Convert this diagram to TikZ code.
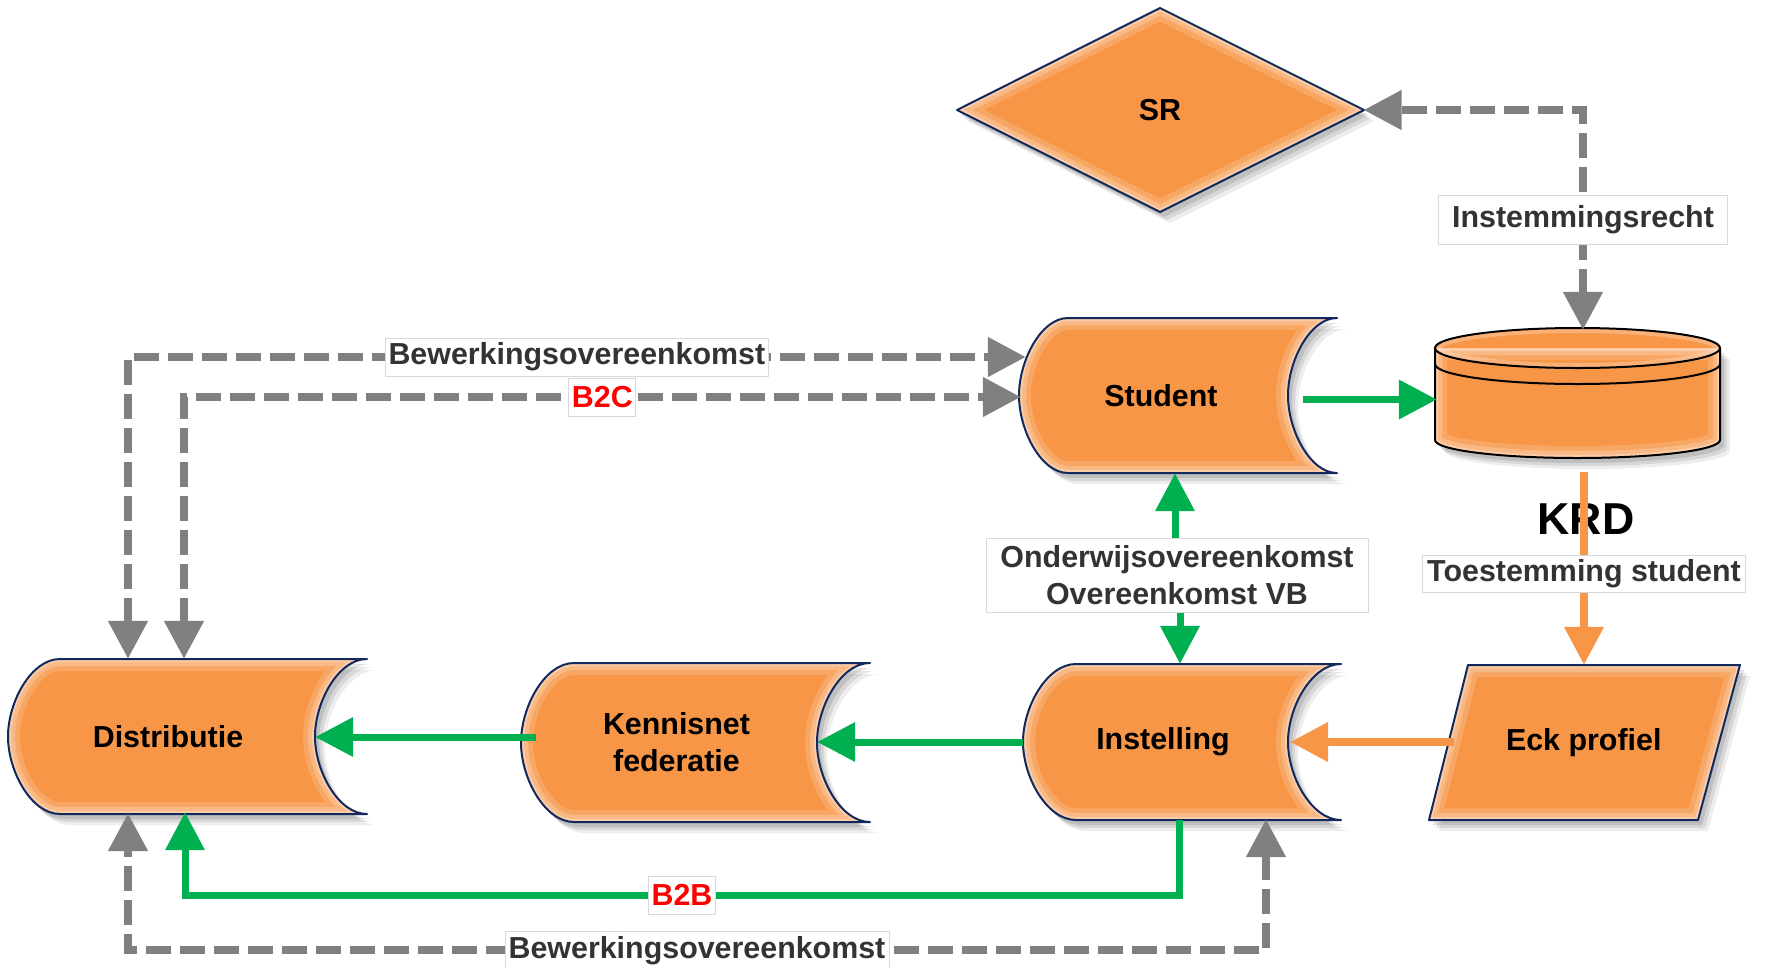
\documentclass[tikz,border=0pt]{standalone}
\usepackage{fontspec}
\setmainfont{Liberation Sans}
\usetikzlibrary{arrows.meta,calc}
\definecolor{ofill}{HTML}{F79646}
\definecolor{navy}{HTML}{12295E}
\definecolor{agreen}{HTML}{00B050}
\definecolor{agray}{HTML}{808080}
\definecolor{ltext}{HTML}{333333}
\definecolor{lborder}{HTML}{D9D9D9}
\definecolor{glowc}{HTML}{FFF2EC}
% stored-data outline: x0 (leftmost), xi (concave inner), top, bottom, depth
\newcommand\sdpath[5]{({#1+#5},#3) -- ({#2+#5},#3)
 .. controls ({#2+#5-0.5523*#5},#3) and (#2,{#3+0.5523*(#4-#3)/2}) .. (#2,{(#3+#4)/2})
 .. controls (#2,{#4-0.5523*(#4-#3)/2}) and ({#2+#5-0.5523*#5},#4) .. ({#2+#5},#4)
 -- ({#1+#5},#4)
 .. controls ({#1+#5-0.5523*#5},#4) and (#1,{#4-0.5523*(#4-#3)/2}) .. (#1,{(#3+#4)/2})
 .. controls (#1,{#3+0.5523*(#4-#3)/2}) and ({#1+#5-0.5523*#5},#3) .. ({#1+#5},#3) -- cycle}
\newcommand\oshape[2]{%
  \fill[black,opacity=0.07,shift={(10,11)}] #1;
  \fill[black,opacity=0.09,shift={(7,8)}] #1;
  \fill[black,opacity=0.11,shift={(4,5)}] #1;
  \fill[ofill] #1;
  \begin{scope}\clip #1;
    \draw[glowc,opacity=0.18,line width=24pt] #1;
    \draw[glowc,opacity=0.25,line width=14pt] #1;
    \draw[glowc,opacity=0.35,line width=6pt] #1;
  \end{scope}
  \draw[#2,line width=2pt,line join=round] #1;
}
\tikzset{
  shapetext/.style={font=\bfseries\fontsize{30.4}{37}\selectfont, text=black, inner sep=0pt, align=center},
  lbl/.style={solid, fill=white, draw=lborder, line width=1pt, text=ltext,
    font=\bfseries\fontsize{30.4}{37}\selectfont, inner xsep=3pt, inner ysep=0pt,
    minimum height=38pt, align=center},
  tipT/.tip={Triangle[length=38pt,width=38pt]},
  gyd/.style={draw=agray, line width=8pt, dash pattern=on 25pt off 9pt, arrows={tipT-tipT}},
  ga/.style={draw=agreen, line width=7pt, arrows={-tipT}},
  oa/.style={draw=ofill, line width=7.5pt, arrows={-tipT}},
}
\begin{document}
\begin{tikzpicture}[x=1pt,y=-1pt]
\fill[white] (0,0) rectangle (1765,967);
\useasboundingbox (0,0) rectangle (1765,967);

% ---- shapes ----
\oshape{(1160,8) -- (1364,110) -- (1160,212) -- (957,110) -- cycle}{navy}
\oshape{\sdpath{1019}{1288}{318}{473}{49}}{navy}
\oshape{\sdpath{1023}{1288}{664}{820}{53}}{navy}
\oshape{\sdpath{521}{817}{663}{822}{53}}{navy}
\oshape{\sdpath{8}{315}{659}{814}{52}}{navy}
\oshape{(1468,665) -- (1740,665) -- (1698,820) -- (1429,820) -- cycle}{navy}

% cylinder
\def\cylbody{(1435,348) -- (1435,440) .. controls (1435,450) and (1498.8,458) .. (1577.5,458) .. controls (1656.2,458) and (1720,450) .. (1720,440) -- (1720,348) -- cycle}
\def\cyltop{(1577.5,348) ellipse [x radius=142.5, y radius=20]}
\fill[black,opacity=0.07,shift={(10,11)}] \cylbody;
\fill[black,opacity=0.09,shift={(7,8)}] \cylbody;
\fill[black,opacity=0.11,shift={(4,5)}] \cylbody;
\fill[ofill] \cylbody;
\fill[ofill] \cyltop;
\begin{scope}\clip \cylbody;
  \draw[glowc,opacity=0.18,line width=24pt] \cylbody;
  \draw[glowc,opacity=0.25,line width=14pt] \cylbody;
  \draw[glowc,opacity=0.35,line width=6pt] \cylbody;
\end{scope}
\begin{scope}\clip \cyltop;
  \draw[glowc,opacity=0.3,line width=10pt] \cyltop;
\end{scope}
\draw[black,line width=2pt] (1435,348) -- (1435,440) .. controls (1435,450) and (1498.8,458) .. (1577.5,458) .. controls (1656.2,458) and (1720,450) .. (1720,440) -- (1720,348);
\draw[black,line width=2pt] \cyltop;
\draw[black,line width=2pt] (1435,364) .. controls (1435,375) and (1498.8,384) .. (1577.5,384) .. controls (1656.2,384) and (1720,375) .. (1720,364);

% ---- nodes ----
\node[shapetext, minimum width=407pt, minimum height=204pt] (sr) at (1160,110) {SR};
\node[shapetext, minimum width=269pt, minimum height=155pt] (stu) at (1153.5,395.5) {\hspace*{15pt}Student};
\node[shapetext, minimum width=265pt, minimum height=156pt] (ins) at (1155.5,742) {\hspace*{15pt}Instelling};
\node[shapetext, minimum width=296pt, minimum height=159pt] (ken) at (669,742.5) {\hspace*{15pt}Kennisnet\\\hspace*{15pt}federatie};
\node[shapetext, minimum width=307pt, minimum height=155pt] (dis) at (161.5,736.5) {\hspace*{13pt}Distributie};
\node[shapetext, minimum width=270.5pt, minimum height=155pt] (eck) at (1583.75,742.5) {Eck profiel};
\node[inner sep=0pt, minimum width=285pt, minimum height=130pt] (krd) at (1577.5,393) {};
\node[font=\bfseries\fontsize{44.7}{50}\selectfont, text=black, inner sep=0pt] (krdtxt) at (1586,519) {KRD};
\node[lbl, minimum width=382pt, minimum height=74pt] (onder) at (1177,575) {Onderwijsovereenkomst\\Overeenkomst VB};

% ---- connectors ----
\draw[gyd] ($(krd.north)+(5.5,2)$) |- node[lbl,pos=0.25,minimum width=289pt,minimum height=49pt]{Instemmingsrecht} (sr.east);
\draw[gyd] ($(dis.north)+(-33.5,0)$) |- node[lbl,pos=0.75,minimum width=383pt]{Bewerkingsovereenkomst} ($(stu.west)+(7,-38.5)$);
\draw[gyd] ($(dis.north)+(22.5,0)$) |- node[lbl,pos=0.75,text=red]{B2C} ($(stu.west)+(2,1.5)$);
\draw[ga] ($(stu.east)+(15,4)$) -- ($(krd.west)+(2,6.5)$);
\draw[ga] ($(onder.north)+(-2,0)$) -- ($(stu.south)+(21.5,0)$);
\draw[ga] ($(onder.south)+(3,0)$) -- ($(ins.north)+(24.5,0)$);
\draw[oa] ($(krd.south)+(6.5,14)$) -- node[lbl,pos=0.526,minimum width=323pt,minimum height=37pt]{Toestemming student} ($(eck.north)+(0.25,0)$);
\draw[oa] ($(eck.west)+(6,-0.5)$) -- ($(ins.east)+(2,0)$);
\draw[ga] (ins.west) -- ($(ken.east)+(0,-0.5)$);
\draw[ga] ($(ken.west)+(15,-5.5)$) -- ($(dis.east)+(0,0.5)$);
\draw[ga] ($(ins.south)+(23.5,0)$) -- ++(0,75) -| node[lbl,pos=0.25,text=red,minimum width=62pt]{B2B} ($(dis.south)+(23.5,-2)$);
\draw[gyd] ($(ins.south)+(110.5,-1)$) -- ++(0,131) -| node[lbl,pos=0.25,minimum width=384pt]{Bewerkingsovereenkomst} ($(dis.south)+(-33.5,-1)$);
\end{tikzpicture}
\end{document}
